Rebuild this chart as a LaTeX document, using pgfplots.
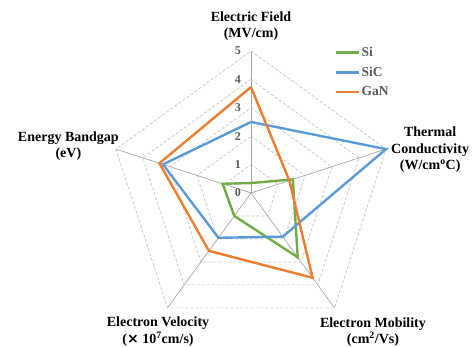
\documentclass[border=0pt]{standalone}
\usepackage{pgfplots}
\pgfplotsset{compat=1.18}
\usepgfplotslibrary{polar}
\usepackage{fontspec}
\setmainfont{Liberation Serif}
\newfontfamily\symfont{DejaVu Sans}
\definecolor{siC}{HTML}{70AD47}
\definecolor{sicC}{HTML}{5B9BD5}
\definecolor{ganC}{HTML}{ED7D31}
\definecolor{gridC}{HTML}{C4C4C4}
\definecolor{spokeC}{HTML}{A6A6A6}
\definecolor{tickC}{HTML}{595959}
\begin{document}
\begin{tikzpicture}
\begin{polaraxis}[
  hide axis, scale only axis, width=284pt, height=284pt,
  xmin=0, xmax=360, ymin=0, ymax=5, enlargelimits=false, clip=false,
  legend style={at={(0.785,1.025)}, anchor=north west, draw=none, fill=none,
    font=\bfseries\fontsize{13.5}{15}\selectfont, text=tickC, row sep=7pt,
    nodes={inner sep=1pt}},
  legend cell align=left,
  legend image code/.code={\draw[#1] (0pt,0pt) -- (23pt,0pt);},
]
% grid pentagons
\pgfplotsinvokeforeach{1,2,3,4,5}{
  \addplot[gridC, line width=0.7pt, dash pattern=on 3pt off 2pt, forget plot]
    coordinates {(90,#1) (18,#1) (306,#1) (234,#1) (162,#1) (90,#1)};
}
% spokes
\pgfplotsinvokeforeach{90,18,306,234,162}{
  \addplot[spokeC, line width=0.7pt, forget plot] coordinates {(#1,0) (#1,5)};
}
% data: Electric Field, Thermal Conductivity, Electron Mobility, Electron Velocity, Energy Bandgap
\addplot[siC, line width=2.4pt, line join=miter]
  coordinates {(90,0.35) (18,1.55) (306,2.8) (234,1.0) (162,1.05) (90,0.35)};
\addlegendentry{Si}
\addplot[sicC, line width=2.4pt, line join=miter]
  coordinates {(90,2.5) (18,5.0) (306,1.9) (234,1.95) (162,3.26) (90,2.5)};
\addlegendentry{SiC}
\addplot[ganC, line width=2.4pt, line join=miter]
  coordinates {(90,3.73) (18,1.42) (306,3.69) (234,2.52) (162,3.39) (90,3.73)};
\addlegendentry{GaN}
% radial tick labels
\pgfplotsinvokeforeach{0,1,2,3,4,5}{
  \node[anchor=east, inner sep=0pt, xshift=-10pt, text=tickC,
    font=\bfseries\fontsize{12}{13}\selectfont] at (axis cs:90,#1) {#1};
}
% axis labels
\begin{scope}[every node/.style={inner sep=0pt, align=center,
    font=\bfseries\fontsize{14}{16.5}\selectfont}]
\node[anchor=south, yshift=10pt] at (axis cs:90,5) {Electric Field\\(MV/cm)};
\node[anchor=west, xshift=5pt, yshift=-1pt] at (axis cs:18,5) {Thermal\\Conductivity\\(W/cm\textsuperscript{o}C)};
\node[anchor=north, xshift=38.5pt, yshift=-9.5pt] at (axis cs:306,5) {Electron Mobility\\(cm\textsuperscript{2}/Vs)};
\node[anchor=north, xshift=-9.5pt, yshift=-9pt] at (axis cs:234,5) {Electron Velocity\\({\symfont\bfseries ×} 10\textsuperscript{7}cm/s)};
\node[anchor=east, xshift=3pt, yshift=3pt] at (axis cs:162,5) {Energy Bandgap\\(eV)};
\end{scope}
\coordinate (c) at (axis cs:0,0);
\end{polaraxis}
\useasboundingbox ([shift={(-251pt,-154pt)}]c) rectangle ([shift={(221pt,193pt)}]c);
\end{tikzpicture}
\end{document}
